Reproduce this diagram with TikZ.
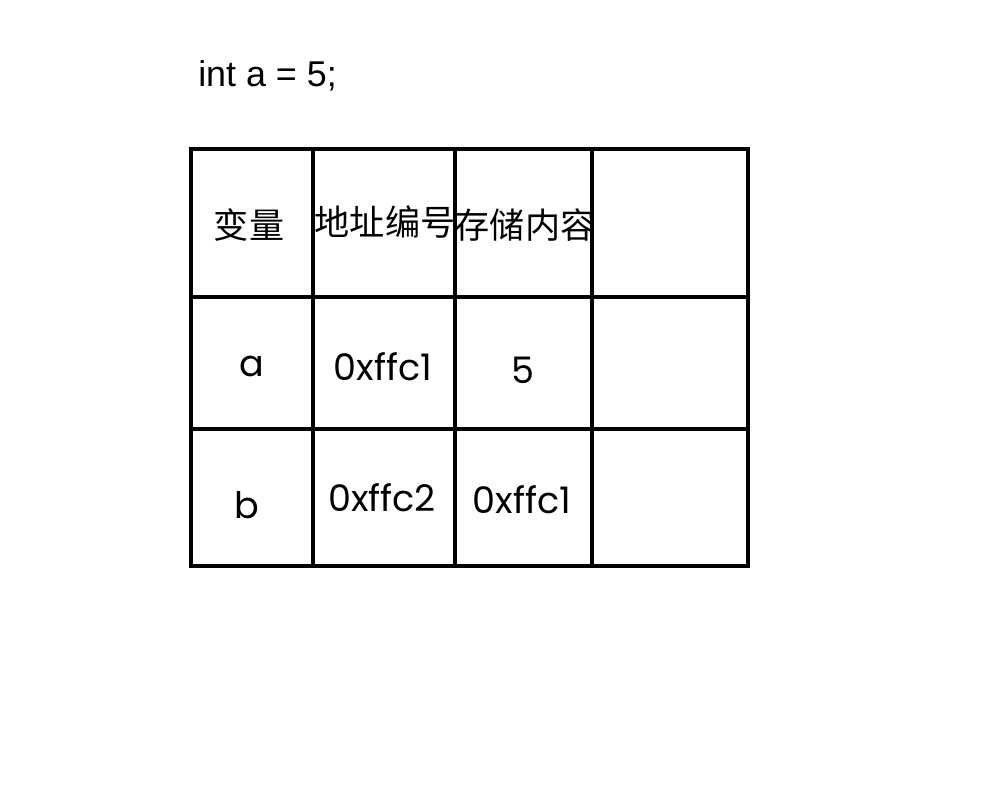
\documentclass[tikz,border=0pt]{standalone}
\usepackage{fontspec}
\setmainfont{Liberation Sans}
\newfontfamily\cjk{Noto Sans CJK SC}
\newfontfamily\geo{Poppins}
\usetikzlibrary{positioning}

\begin{document}
\begin{tikzpicture}[
	x=0.025cm, y=-0.025cm,
	grid/.style={draw=black, line width=2.4pt, line cap=rect},
	cell/.style={inner sep=0pt, font=\geo\fontsize{26}{26}\selectfont},
	head/.style={inner sep=0pt, font=\cjk\fontsize{25}{25}\selectfont},
	code/.style={inner sep=0pt, anchor=base west, font=\fontsize{25.5}{25.5}\selectfont}
	]
	\useasboundingbox (0,0) rectangle (1000,800);
	\node[code] (decl) at (198,87) {int a = 5;};
	% table lines
	\foreach \y in {149,297,429,566}
		\draw[grid] (191,\y) -- (748,\y);
	\foreach \x in {191,313,455,592,748}
		\draw[grid] (\x,149) -- (\x,566);
	% header row
	\node[head] (var) at (249,225) {变量};
	\node[head] (addr) at (385,222) {地址编号};
	\node[head] (cont) at (525,225) {存储内容};
	% row a
	\node[cell] (va) at (252,366) {a};
	\node[cell] (aa) at (383,367) {0xffc1};
	\node[cell] (ca) at (523,370) {5};
	% row b
	\node[cell] (vb) at (247,505) {b};
	\node[cell] (ab) at (382,498) {0xffc2};
	\node[cell] (cb) at (522,500) {0xffc1};
\end{tikzpicture}
\end{document}
